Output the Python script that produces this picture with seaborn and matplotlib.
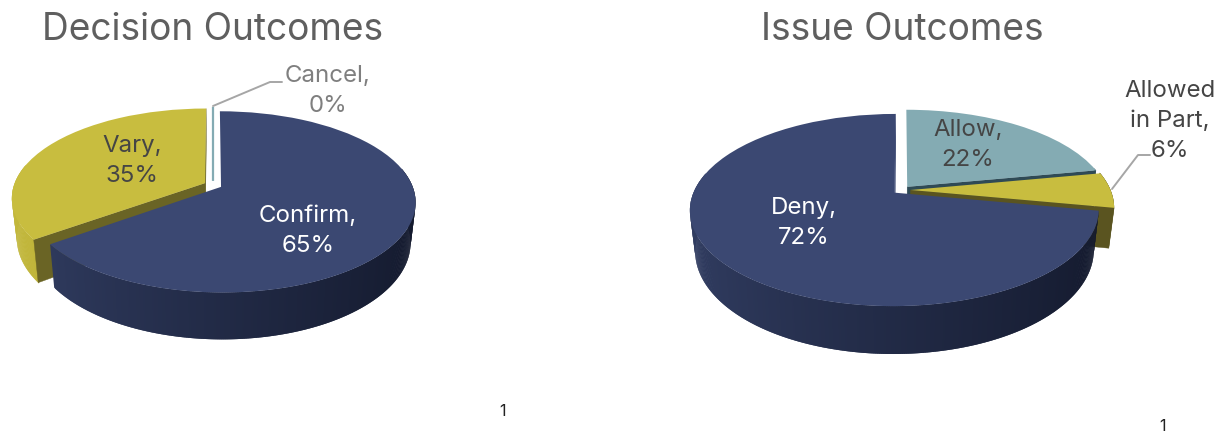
import numpy as np
import matplotlib
matplotlib.use('Agg')
import matplotlib.pyplot as plt
import seaborn as sns
from matplotlib.colors import to_rgb
from matplotlib.patches import Polygon
from matplotlib.transforms import Transform

# values
decision_cats = ['Confirm', 'Vary', 'Cancel']
decision_vals = [65, 35, 0]
issue_cats = ['Allow', 'Allowed in Part', 'Deny']
issue_vals = [22, 6, 72]

NAVY = '#3b4872'
YELLOW = '#c8bd3f'
TEAL = '#84abb3'


class Tilt(Transform):
    # unit circle -> pixels, tilted with a bit of perspective
    input_dims = 2
    output_dims = 2

    def __init__(self, cx, cy, rx, ry, p):
        super().__init__()
        self.cx, self.cy, self.rx, self.ry, self.p = cx, cy, rx, ry, p

    def transform_non_affine(self, values):
        u, v = np.asarray(values).T
        w = 1 + self.p * v
        return np.column_stack([self.cx + self.rx * u / w, self.cy - self.ry * v / w])


def drop(tilt, u, v, depth):
    # same point, pushed down to the bottom of the slab (converges a little)
    xy = tilt.transform_non_affine(np.column_stack([u, v]))
    xy[:, 0] = tilt.cx + (xy[:, 0] - tilt.cx) * 0.975
    xy[:, 1] += depth / (1 + tilt.p * np.asarray(v))
    return xy


def mix(a, b, t):
    return tuple((1 - t) * np.array(to_rgb(a)) + t * np.array(to_rgb(b)))


def draw_3d_pie(ax, vals, colors, side_cols, cut_cols, explode, order, tilt, depth):
    wedges, _ = ax.pie(vals, startangle=90, counterclock=False, explode=explode, colors=colors)
    for w, c, sc, cc, z in zip(wedges, colors, side_cols, cut_cols, order):
        w.set_transform(tilt + ax.transData)
        w.set_zorder(z + 0.5)
        w.set_linewidth(0)
        if w.theta2 - w.theta1 < 0.01:
            w.set_edgecolor(c)
            w.set_linewidth(1.6)
            continue
        ox, oy = w.center
        # rim, every strip overlaps the next one so no seams show
        th = np.radians(np.arange(w.theta1, w.theta2 + 0.5, 0.5))
        for i in range(len(th) - 1):
            a, b = th[i], th[min(i + 2, len(th) - 1)]
            if np.sin(a) > 0.2 and np.sin(b) > 0.2:
                continue
            u = ox + np.cos([a, b])
            v = oy + np.sin([a, b])
            top = tilt.transform_non_affine(np.column_stack([u, v]))
            bot = drop(tilt, u, v, depth)
            t = ((np.cos(a) + 1) / 2) ** 0.85
            ax.add_patch(Polygon(np.vstack([top, bot[::-1]]), facecolor=mix(sc[0], sc[1], t),
                                 linewidth=0, zorder=z))
        # cut faces towards the viewer
        mid = (w.theta1 + w.theta2) / 2
        for ang in (w.theta1, w.theta2):
            a = np.radians(ang)
            if np.sign(ang - mid) * np.cos(a) >= -1e-9:
                continue
            u = np.array([ox, ox + np.cos(a)])
            v = np.array([oy, oy + np.sin(a)])
            top = tilt.transform_non_affine(np.column_stack([u, v]))
            bot = drop(tilt, u, v, depth)
            ax.add_patch(Polygon(np.vstack([top, bot[::-1]]), facecolor=cc, edgecolor=cc,
                                 linewidth=0.3, zorder=z + 0.2))


sns.set_theme(style='white')
plt.rcParams['font.family'] = ['Inter', 'DejaVu Sans']

fig = plt.figure(figsize=(12.3, 4.35), dpi=100)
ax1 = fig.add_axes([0, 0, 0.5, 1])
ax2 = fig.add_axes([0.5, 0, 0.5, 1])

navy_side = ('#323e63', '#141a2e')

draw_3d_pie(ax1, decision_vals, [NAVY, YELLOW, TEAL],
            [navy_side, ('#c4b93c', '#a89e30'), navy_side],
            [NAVY, '#6a6425', TEAL],
            [0.047, 0.047, 0.047], [3, 1, 2],
            Tilt(213, 186, 191, 87.5, 0.165), 39)

draw_3d_pie(ax2, issue_vals, [TEAL, YELLOW, NAVY],
            [('#2f4a55', '#2f4a55'), ('#55501c', '#55501c'), navy_side],
            ['#2f4a55', '#5a5420', NAVY],
            [0.045, 0.045, 0.045], [1, 2, 3],
            Tilt(901.5 - 615, 191, 200, 92, 0.18), 39)

for ax in (ax1, ax2):
    ax.set_aspect('auto')
    ax.set_xlim(0, 615)
    ax.set_ylim(435, 0)
    ax.axis('off')

GREY = '#5f5f5f'
DARK = '#454545'
LS = 17.3
SP = 1.45

ax1.text(212.5, 30, 'Decision Outcomes', fontsize=26.7, color=GREY, ha='center', va='center')
ax2.text(902 - 615, 30, 'Issue Outcomes', fontsize=26.7, color=GREY, ha='center', va='center')

ax1.text(308, 231, f'{decision_cats[0]},\n{decision_vals[0]}%', fontsize=LS, color='white', ha='center', va='center', linespacing=SP, zorder=9)
ax1.text(132, 161, f'{decision_cats[1]},\n{decision_vals[1]}%', fontsize=LS, color=DARK, ha='center', va='center', linespacing=SP, zorder=9)
ax1.text(328, 91, f'{decision_cats[2]},\n{decision_vals[2]}%', fontsize=LS, color='#7f7f7f', ha='center', va='center', linespacing=SP, zorder=9)
ax1.plot([213, 270, 282], [107, 83, 83], color='#a6a6a6', lw=1.4, zorder=8)

ax2.text(968 - 615, 145, f'{issue_cats[0]},\n{issue_vals[0]}%', fontsize=LS, color=DARK, ha='center', va='center', linespacing=SP, zorder=9)
ax2.text(804 - 615, 223, f'{issue_cats[2]},\n{issue_vals[2]}%', fontsize=LS, color='white', ha='center', va='center', linespacing=SP, zorder=9)
ax2.text(1170 - 615, 121, 'Allowed\nin Part,\n' + f'{issue_vals[1]}%', fontsize=LS, color=DARK, ha='center', va='center', linespacing=SP, zorder=9)
ax2.plot([1112 - 615, 1138 - 615, 1150 - 615], [190, 156, 156], color='#a6a6a6', lw=1.4, zorder=8)

ax1.text(503, 412, '1', fontsize=11.5, color='#222222', ha='center', va='center')
ax2.text(1162 - 615, 427, '1', fontsize=11.5, color='#222222', ha='center', va='center')

fig.savefig('out.png', dpi=100)
